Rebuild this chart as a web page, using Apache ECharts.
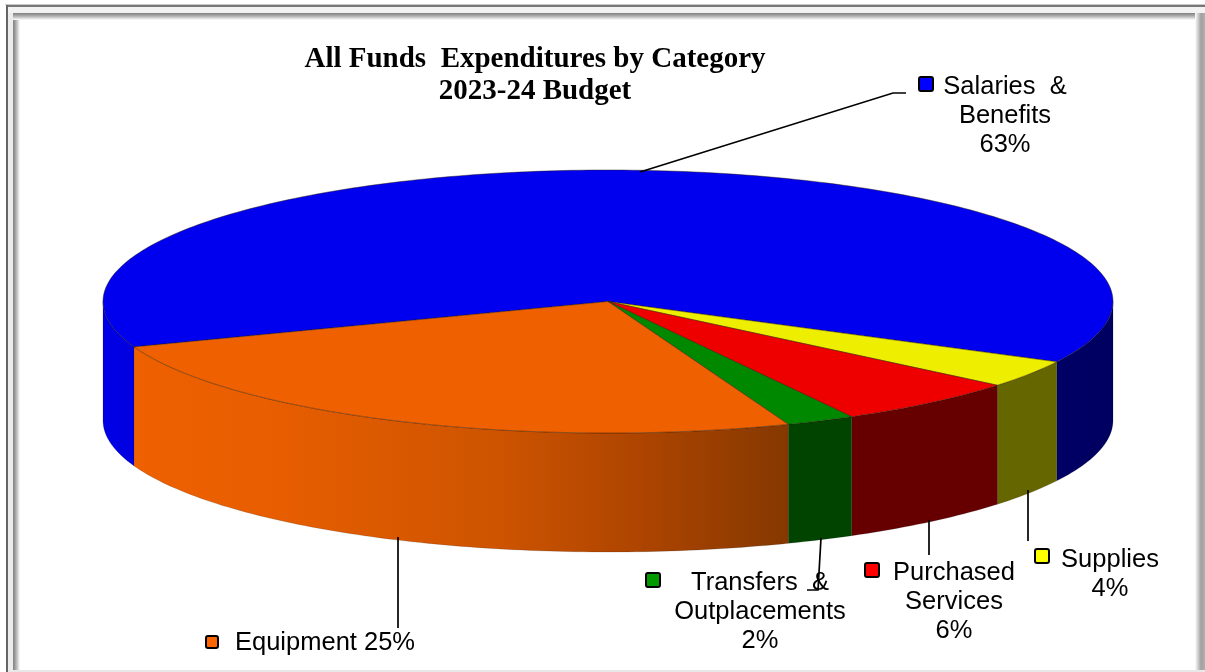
<!DOCTYPE html>
<html><head><meta charset="utf-8">
<style>html,body{margin:0;padding:0;background:#fff}#c{width:1205px;height:672px}</style>
<script src="https://cdn.jsdelivr.net/npm/echarts@6/dist/echarts.min.js"></script>
</head><body><div id="c"></div>
<script>
// Data, clockwise from the Salaries slice
var categories = ['Salaries & Benefits','Supplies','Purchased Services','Transfers & Outplacements','Equipment'];
var values = [63.2,3.4,6.0,2.2,25.2];
var labelLines = [['Salaries  &','Benefits','63%'],['Supplies','4%'],['Purchased','Services','6%'],['Transfers  &','Outplacements','2%'],['Equipment 25%']];
var titleText = 'All Funds  Expenditures by Category\n2023-24 Budget';
var topColors = ['#0000ee','#eeee00','#ee0000','#008800','#ee6000'];
var markerColors = ['#0000ff','#ffff00','#ff0000','#009900','#ff6600'];

// Layout
var cx=608, cy=301.5, rx=505, ry=131.5, depth=119, startAngle=159.8;
var labelBoxes = [[1005,87],[1110,560],[954,573],[760,583],[325,643]];
var markers = [[926,84],[1042,556],[872,570],[653,580],[212,642]];
var markerSizes = [14,14,14,14,12];
var leaders = [
 [[640,172],[893,93],[906,93]],
 [[1028,490],[1028,541]],
 [[929,520],[929,555]],
 [[821,538],[818,590],[807,590]],
 [[398,537],[398,628]]
];
var lineH = 29;
function pt(t,dy){var a=t*Math.PI/180;return [cx+rx*Math.cos(a),cy+ry*Math.sin(a)+(dy||0)];}
var G = echarts.graphic;
function sideFill(i){
  if(i===4) return new G.LinearGradient(134,0,790,0,[{offset:0,color:'#ee6000'},{offset:0.2,color:'#e85e00'},{offset:0.55,color:'#ce5400'},{offset:0.78,color:'#ac4400'},{offset:1,color:'#843800'}],true);
  if(i===0) return new G.LinearGradient(103,0,1113,0,[{offset:0,color:'#0000e6'},{offset:0.03,color:'#0000e0'},{offset:0.94,color:'#000066'},{offset:1,color:'#000060'}],true);
  return ['', '#666600','#660000','#004400'][i];
}
function sideShape(a,b,i,out){ // a..b within 0..180 visible
  a=Math.max(a,0); b=Math.min(b,180); if(b<=a) return;
  var pts=[],t;
  for(t=a;t<b;t+=1) pts.push(pt(t,0)); pts.push(pt(b,0));
  for(t=b;t>a;t-=1) pts.push(pt(t,depth)); pts.push(pt(a,depth));
  out.push({type:'polygon',shape:{points:pts},style:{fill:sideFill(i),stroke:'rgba(0,0,0,0.25)',lineWidth:0.6}});
}
var total=values.reduce(function(s,v){return s+v;},0);
function renderSlice(params,api){
  var i=params.dataIndex, s=startAngle;
  for(var k=0;k<i;k++) s+=values[k]/total*360;
  var e=s+api.value(0)/total*360, kids=[];
  sideShape(s,e,i,kids);
  sideShape(s-360,e-360,i,kids);
  var pts=[[cx,cy]];
  for(var t=s;t<e;t+=1) pts.push(pt(t,0)); pts.push(pt(e,0));
  kids.push({type:'polygon',shape:{points:pts},style:{fill:topColors[i],stroke:'rgba(40,20,0,0.55)',lineWidth:0.8}});
  return {type:'group',children:kids};
}
// Static decoration and real-text labels
var els=[];
function rect(x,y,w,h,fill){els.push({type:'rect',silent:true,shape:{x:x,y:y,width:w,height:h},style:{fill:fill}});}
function lg(h,stops,x,y,w,ht){return h?new G.LinearGradient(x,0,x+w,0,stops,true):new G.LinearGradient(0,y,0,y+ht,stops,true);}
var bevel=[{offset:0,color:'#808080'},{offset:0.4,color:'#aaa'},{offset:1,color:'#fff'}];
rect(5,4,1200,1,'#c8c8c8');
rect(6,5,1199,2,'#777');
rect(6,5,2,667,'#666');
rect(8,7,5,665,'#ececec');
rect(8,7,1197,6,'#f2f2f2');
rect(13,13,7,659,lg(true,bevel,13,0,7,0));
rect(13,13,1192,7,lg(false,bevel,0,13,0,7));
rect(1195,13,10,659,lg(true,[{offset:0,color:'#fff'},{offset:0.6,color:'#a0a0a0'},{offset:1,color:'#b0b0b0'}],1195,0,10,0));
rect(8,670,1197,2,'#e8e8e8');
leaders.forEach(function(l){els.push({type:'polyline',shape:{points:l},style:{fill:null,stroke:'#000',lineWidth:1.7},z:5});});
markers.forEach(function(m,i){var z=markerSizes[i];els.push({type:'rect',shape:{x:m[0]-z/2,y:m[1]-z/2,width:z,height:z,r:2},style:{fill:markerColors[i],stroke:'#000',lineWidth:2},z:6});});
labelLines.forEach(function(lines,i){
  lines.forEach(function(s,j){
    els.push({type:'text',x:labelBoxes[i][0],y:labelBoxes[i][1]+j*lineH,z:7,style:{text:s,fill:'#000',font:'25.5px "Liberation Sans"',textAlign:'center',textVerticalAlign:'middle'}});
  });
});
var chart=echarts.init(document.getElementById('c'));
chart.setOption({
  animation:false,
  backgroundColor:'#fff',
  title:{text:titleText,left:530,top:39,textAlign:'center',textStyle:{fontFamily:'Liberation Serif',fontWeight:'bold',fontSize:29,lineHeight:32,color:'#000'}},
  graphic:els,
  series:[{type:'custom',coordinateSystem:'none',renderItem:renderSlice,
    data:values.map(function(v,i){return {name:categories[i],value:[v]};}),silent:true,z:3}]
});
</script></body></html>
